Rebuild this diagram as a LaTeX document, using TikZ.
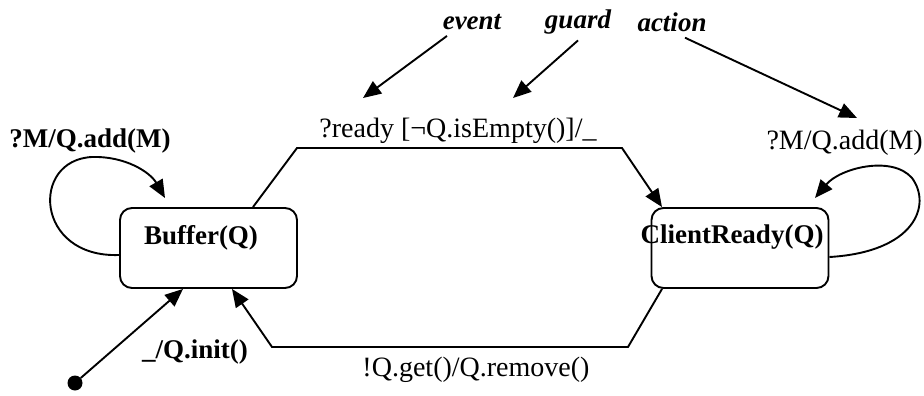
\documentclass[tikz,border=0pt]{standalone}
\usepackage{fontspec}
\setmainfont{Liberation Serif}
\usetikzlibrary{arrows.meta}
\begin{document}
\begin{tikzpicture}[x=1pt,y=-1pt,
  state/.style={draw, line width=1.9pt, rounded corners=12pt, minimum width=177pt, minimum height=80pt, inner sep=0pt},
  conn/.style={line width=1.9pt, -{Triangle[length=18pt,width=15pt]}},
  lbl/.style={font=\fontsize{27}{30}\selectfont\bfseries, inner sep=0pt},
  lblr/.style={font=\fontsize{28}{30}\selectfont, inner sep=0pt},
  note/.style={font=\fontsize{27}{30}\selectfont\bfseries\itshape, inner sep=0pt}]
\useasboundingbox[fill=white] (0,0) rectangle (924,396);

% states
\node[state] (buf) at (208.5,248) {};
\node[lbl] (buftxt) at (201,238) {Buffer(Q)};
\node[state] (cr) at (740,248) {};
\node[lbl] (crtxt) at (732,237) {ClientReady(Q)};

% initial pseudo-state
\node[circle, fill, minimum size=15pt, inner sep=0pt] (init) at (75,383) {};

% transitions
\draw[conn] ([xshift=44.5pt]buf.north) -- (297,148) -- (622,148) -- ([xshift=-78pt]cr.north);
\draw[conn] ([xshift=-78pt]cr.south) -- (628,347) -- (272,347) -- ([xshift=23.5pt]buf.south);
\draw[conn] (init) -- ([xshift=-25.5pt]buf.south);
\draw[conn] ([yshift=-7pt]buf.west) .. controls (35,258) and (30,160) .. (92,157)
  .. controls (125,156) and (150,172) .. (165,198);
\draw[conn] ([yshift=-9pt]cr.east) .. controls (915,252) and (932,205) .. (912,178)
  .. controls (892,155) and (840,168) .. (815,198);

% transition labels
\node[lblr] (tready) at (458,131) {?ready [¬Q.isEmpty()]/\_};
\node[lbl] (taddl) at (90,141) {?M/Q.add(M)};
\node[lblr, anchor=east] (taddr) at (923,143) {?M/Q.add(M)};
\node[lbl] (tinit) at (195,352) {\_/Q.init()};
\node[lblr] (tget) at (476,370) {!Q.get()/Q.remove()};

% annotations
\node[note] (ev) at (472,22) {event};
\node[note] (gd) at (578,22) {guard};
\node[note] (ac) at (672,22) {action};
\draw[conn] ([xshift=-25pt,yshift=-6pt]ev.south) -- (363,98);
\draw[conn] ([yshift=-6pt]gd.south) -- (513,98);
\draw[conn] ([xshift=13pt,yshift=-6pt]ac.south) -- (857,118);
\end{tikzpicture}
\end{document}
